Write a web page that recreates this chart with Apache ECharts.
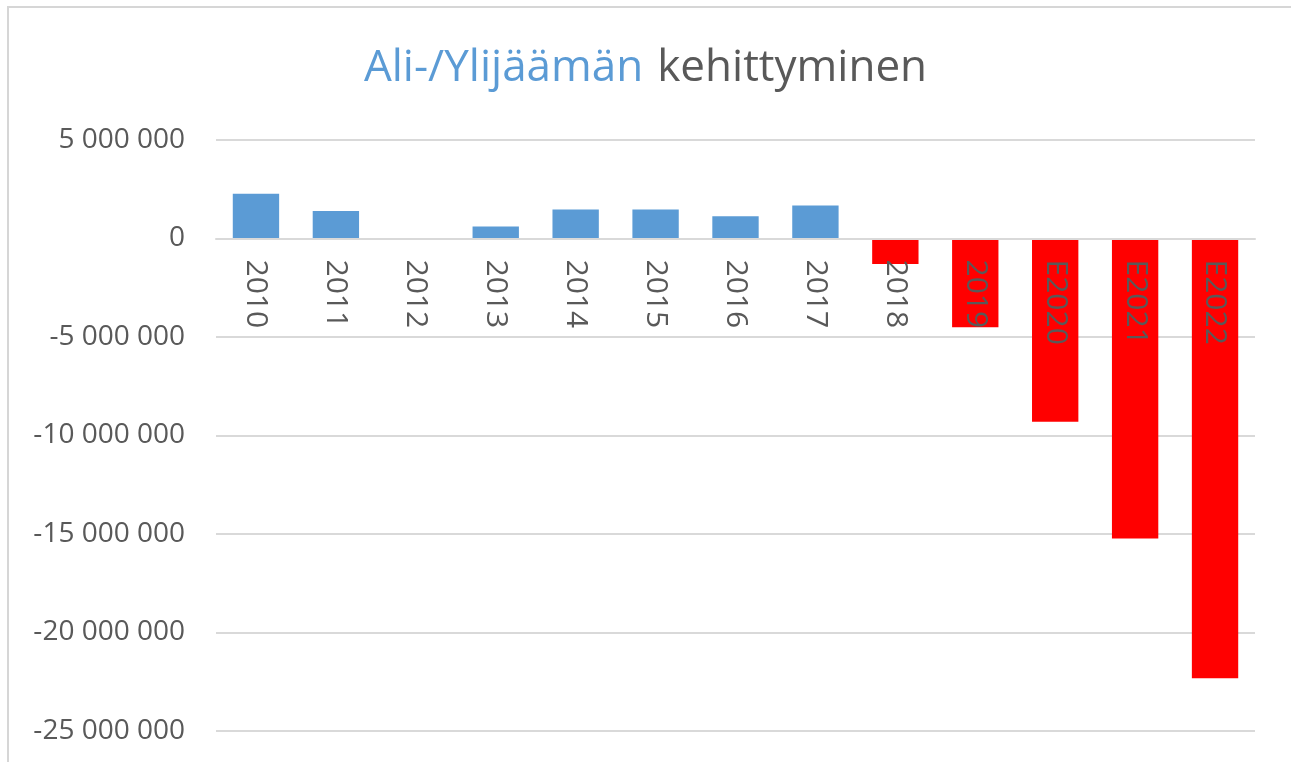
<!DOCTYPE html>
<html>
<head>
<meta charset="utf-8">
<script src="https://cdn.jsdelivr.net/npm/echarts@6/dist/echarts.min.js"></script>
<style>
html,body{margin:0;padding:0;background:#fff;}
#chart{width:1291px;height:762px;}
</style>
</head>
<body>
<div id="chart"></div>
<script>
const categories = ['2010','2011','2012','2013','2014','2015','2016','2017','2018','2019','E2020','E2021','E2022'];
const values = [2270000, 1400000, 0, 610000, 1470000, 1470000, 1130000, 1680000, -1300000, -4500000, -9300000, -15230000, -22320000];
const titleBlue = 'Ali-/Ylijäämän';
const titleGray = 'kehittyminen';
const yMin = -25000000, yMax = 5000000, yStep = 5000000;

function fmt(v){
  const s = Math.abs(v).toString().replace(/\B(?=(\d{3})+(?!\d))/g, ' ');
  return (v < 0 ? '-' : '') + s;
}

const chart = echarts.init(document.getElementById('chart'));
chart.setOption({
  animation: false,
  backgroundColor: '#ffffff',
  textStyle: { fontFamily: 'Open Sans' },
  graphic: [{
    type: 'rect', z: -1,
    shape: { x: 8, y: 7, width: 1320, height: 820 },
    style: { fill: 'none', stroke: '#d6d6d6', lineWidth: 2 }
  }],
  title: {
    text: '{a|' + titleBlue + '}{s| }{b|' + titleGray + '}',
    left: 'center', top: 41,
    textStyle: {
      fontWeight: 'normal',
      rich: {
        a: { fontFamily: 'Open Sans', fontSize: 44, fontWeight: 'normal', color: '#5b9bd5' },
        s: { fontFamily: 'Open Sans', fontSize: 44, fontWeight: 'normal', width: 14 },
        b: { fontFamily: 'Open Sans', fontSize: 44, fontWeight: 'normal', color: '#595959' }
      }
    }
  },
  grid: { left: 216, right: 36, top: 140, bottom: 31, containLabel: false, outerBoundsMode: 'none' },
  xAxis: {
    type: 'category',
    data: categories,
    position: 'bottom',
    offset: 0,
    z: 10,
    axisLine: { show: true, onZero: false, lineStyle: { color: '#d9d9d9', width: 2 } },
    axisTick: { show: false },
    axisLabel: { rotate: -90, margin: 21, fontSize: 30, color: '#595959', fontFamily: 'Open Sans' }
  },
  yAxis: {
    type: 'value',
    min: yMin, max: yMax, interval: yStep,
    axisLine: { show: false },
    axisTick: { show: false },
    splitLine: { lineStyle: { color: '#d9d9d9', width: 2 } },
    axisLabel: { margin: 31, fontSize: 28, color: '#595959', fontFamily: 'Open Sans', formatter: fmt }
  },
  series: [{
    type: 'bar',
    data: values,
    barCategoryGap: '42%',
    itemStyle: {
      color: p => p.value < 0 ? '#ff0000' : '#5b9bd5'
    }
  }]
});
// place the category axis on the zero line using the library's own value scale
const zeroY = chart.convertToPixel({ yAxisIndex: 0 }, 0);
const minY = chart.convertToPixel({ yAxisIndex: 0 }, yMin);
chart.setOption({ xAxis: { offset: zeroY - minY } });
</script>
</body>
</html>
